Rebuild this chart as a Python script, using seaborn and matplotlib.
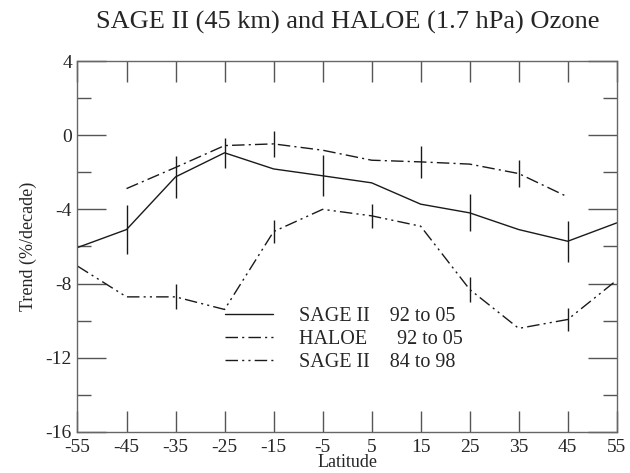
import numpy as np
import pandas as pd
import matplotlib
matplotlib.use("Agg")
import matplotlib.pyplot as plt
import seaborn as sns

# szerokosc geograficzna
latitude = [-55, -45, -35, -25, -15, -5, 5, 15, 25, 35, 45, 55]

# SAGE II 92 to 05
sage_9205 = [-6.06, -5.09, -2.25, -0.95, -1.82, -2.19, -2.57, -3.72, -4.19, -5.09, -5.72, -4.73]
sage_9205_err_lat = [-45, -35, -25, -5, 25, 45]
sage_9205_err = [1.3, 1.14, 0.8, 1.1, 1.0, 1.1]

# HALOE 92 to 05
haloe_lat = [-45, -35, -25, -15, -5, 5, 15, 25, 35, 45]
haloe_9205 = [-2.88, -1.74, -0.56, -0.47, -0.81, -1.35, -1.44, -1.56, -2.07, -3.33]
haloe_err_lat = [-15, 15, 35]
haloe_err = [0.72, 0.85, 0.72]

# SAGE II 84 to 98
sage_8498 = [-7.06, -8.72, -8.72, -9.4, -5.2, -4.0, -4.35, -4.91, -8.32, -10.42, -9.94, -7.82]
sage_8498_err_lat = [-35, -15, 5, 25, 45]
sage_8498_err = [0.67, 0.6, 0.63, 0.65, 0.61]

sns.set_style("ticks")
plt.rcParams['font.family'] = ['Liberation Serif', 'DejaVu Serif']
plt.rcParams['axes.unicode_minus'] = False

kolor = "#1a1a1a"
style_9205 = "-"
style_haloe = (0, (9, 3, 1.5, 3))
style_8498 = (0, (9, 3, 1.5, 3, 1.5, 3))

df1 = pd.DataFrame({"lat": latitude, "trend": sage_9205})
df2 = pd.DataFrame({"lat": haloe_lat, "trend": haloe_9205})
df3 = pd.DataFrame({"lat": latitude, "trend": sage_8498})

fig = plt.figure(figsize=(6.3, 4.73), dpi=100)
ax = fig.add_axes([0.123, 0.087, 0.856, 0.784])

sns.lineplot(data=df1, x="lat", y="trend", ax=ax, color=kolor, lw=1.0, label="SAGE II    92 to 05")
ax.lines[-1].set_linestyle(style_9205)
sns.lineplot(data=df2, x="lat", y="trend", ax=ax, color=kolor, lw=1.0, label="HALOE      92 to 05")
ax.lines[-1].set_linestyle(style_haloe)
sns.lineplot(data=df3, x="lat", y="trend", ax=ax, color=kolor, lw=1.0, label="SAGE II    84 to 98")
ax.lines[-1].set_linestyle(style_8498)

# slupki bledow (pionowe kreski bez zakonczen)
def slupki(lat_err, err, lat, vals):
    y = [vals[lat.index(l)] for l in lat_err]
    ax.errorbar(lat_err, y, yerr=err, fmt='none', ecolor=kolor, elinewidth=1.0, capsize=0)

slupki(sage_9205_err_lat, sage_9205_err, latitude, sage_9205)
slupki(haloe_err_lat, haloe_err, haloe_lat, haloe_9205)
slupki(sage_8498_err_lat, sage_8498_err, latitude, sage_8498)

ax.set_xlim(-55, 55)
ax.set_ylim(-16, 4)
ax.set_xticks(latitude)
ax.set_yticks([4, 0, -4, -8, -12, -16])
ax.set_yticks([2, -2, -6, -10, -14], minor=True)
ax.tick_params(axis='x', which='major', direction='in', length=15, width=1, color='#555555',
               top=True, bottom=True, labelsize=14, pad=5)
ax.tick_params(axis='y', which='major', direction='in', length=21, width=1, color='#555555',
               left=True, right=True, labelsize=14, pad=4)
ax.tick_params(axis='y', which='minor', direction='in', length=10, width=1, color='#555555',
               left=True, right=True)
for s in ax.spines.values():
    s.set_color('#666666')
    s.set_linewidth(1.0)

ax.set_xlabel("Latitude", fontsize=13, labelpad=-1)
ax.set_ylabel("Trend (%/decade)", fontsize=13, labelpad=6)
fig.text(0.552, 0.953, "SAGE II (45 km) and HALOE (1.7 hPa) Ozone", fontsize=19,
         ha='center', va='center')

leg = ax.legend(loc='upper left', bbox_to_anchor=(0.273, 0.338), frameon=False, fontsize=14.5,
                handlelength=2.4, handletextpad=1.3, labelspacing=0.2, borderaxespad=0,
                borderpad=0)
for h in leg.get_lines():
    h.set_linewidth(1.0)

plt.savefig("out.png", dpi=100)
